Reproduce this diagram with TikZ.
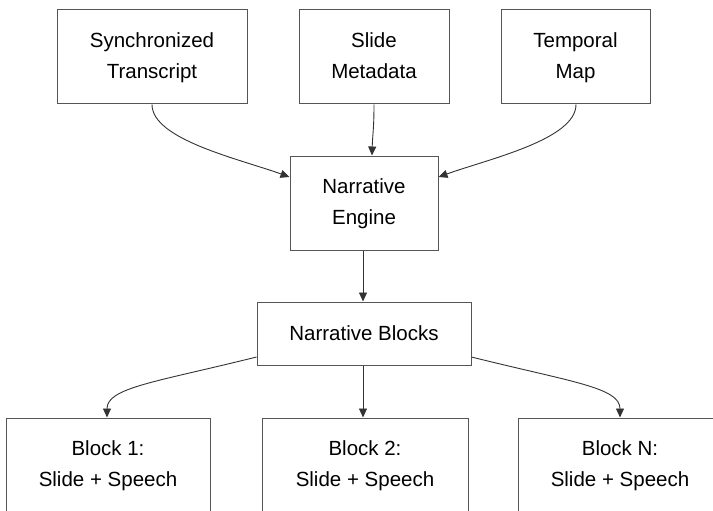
\documentclass[tikz,border=0pt]{standalone}
\usepackage{fontspec}
\setmainfont{Liberation Sans}
\usetikzlibrary{arrows.meta}
\definecolor{boxline}{HTML}{555555}
\definecolor{conn}{HTML}{333333}
\tikzset{
  box/.style={draw=boxline, line width=1pt, fill=white, align=center, inner sep=0pt,
    font=\fontsize{20.5}{31}\selectfont, text=black},
  conn/.style={draw=conn, line width=0.9pt, -{Triangle[length=9pt,width=8pt]}}
}
\begin{document}
\begin{tikzpicture}[x=1pt,y=-1pt]
\useasboundingbox (0,0) rectangle (713,511);
\fill[white] (0,0) rectangle (713,511);
\node[box, minimum width=190pt, minimum height=94pt] (ST) at (152,57) {\strut Synchronized\\Transcript\strut};
\node[box, minimum width=150pt, minimum height=94pt] (SM) at (374,57) {\strut Slide\\Metadata\strut};
\node[box, minimum width=149pt, minimum height=94pt] (TM) at (575.5,57) {\strut Temporal\\Map\strut};
\node[box, minimum width=148pt, minimum height=94pt] (NE) at (364,203) {\strut Narrative\\Engine\strut};
\node[box, minimum width=214pt, minimum height=63pt] (NB) at (364,333.5) {Narrative Blocks};
\node[box, minimum width=204pt, minimum height=93pt] (B1) at (108,464.5) {\strut Block 1:\\Slide + Speech\strut};
\node[box, minimum width=206pt, minimum height=93pt] (B2) at (365,464.5) {\strut Block 2:\\Slide + Speech\strut};
\node[box, minimum width=204pt, minimum height=93pt] (BN) at (620,464.5) {\strut Block N:\\Slide + Speech\strut};

\draw[conn] (ST.south) .. controls +(0,35) and +(-50,-18) .. ([yshift=26pt]NE.west);
\draw[conn] (SM.south) .. controls +(0,25) and +(0.5,-20) .. ([xshift=8pt]NE.north);
\draw[conn] ([xshift=0.5pt]TM.south) .. controls +(0,35) and +(50,-18) .. ([yshift=26pt]NE.east);
\draw[conn] ([xshift=-1pt]NE.south) -- ([xshift=-1pt]NB.north);
\draw[conn] ([yshift=-23.5pt]NB.west) .. controls +(-100,25) and +(0,-30) .. ([xshift=-1pt]B1.north);
\draw[conn] ([xshift=-1pt]NB.south) -- ([xshift=-2pt]B2.north);
\draw[conn] ([yshift=-23.5pt]NB.east) .. controls +(100,25) and +(0,-30) .. (BN.north);
\end{tikzpicture}
\end{document}
